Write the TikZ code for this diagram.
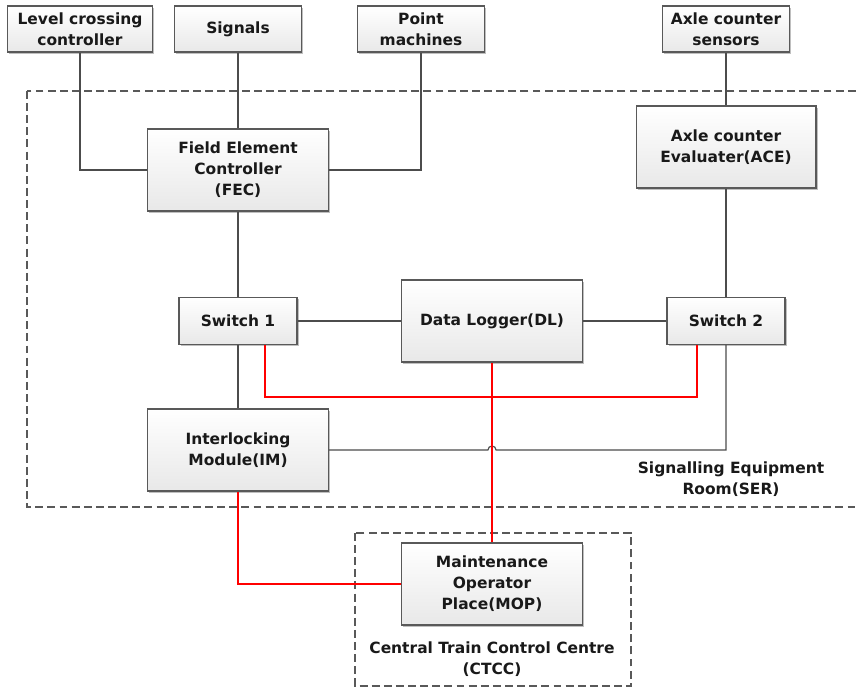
\documentclass[tikz,border=0pt]{standalone}
\usepackage{fontspec}
\setmainfont{DejaVu Sans}
\usepackage{tikz}
\usetikzlibrary{shadows}

\tikzset{
  unit/.style={draw=black!65, line width=0.6pt, top color=white, bottom color=black!9,
    drop shadow={shadow xshift=1.1pt, shadow yshift=-1.1pt, opacity=0.25, fill=black},
    align=center, inner sep=1pt, text=black!90},
  devbox/.style={unit, minimum width=2.54cm, minimum height=0.92cm},
  mainbox/.style={unit, minimum width=3.62cm, minimum height=1.64cm},
  swbox/.style={unit, minimum width=2.36cm, minimum height=0.94cm},
  wire/.style={draw=black!70, line width=0.65pt},
  redwire/.style={draw=red, line width=0.6pt},
  room/.style={draw=black!65, line width=0.6pt, dash pattern=on 4.5pt off 2.4pt},
  roomlabel/.style={align=center, text=black!90}
}

\begin{document}
\begin{tikzpicture}[x=0.02cm, y=-0.02cm, font=\fontsize{8.8}{12}\selectfont\bfseries]
\useasboundingbox (0,0) rectangle (858,689);
\draw[room] (27,91) rectangle (880,507);
\draw[room] (355,533) rectangle (631,686);
\node[devbox, minimum width=2.9cm] (lcc) at (80,29) {Level crossing\\controller};
\node[devbox] (sig) at (238,29) {Signals};
\node[devbox] (pm) at (421,29) {Point\\machines};
\node[devbox] (acs) at (726,29) {Axle counter\\sensors};
\node[mainbox] (fec) at (238,170) {Field Element\\Controller\\(FEC)};
\node[mainbox, minimum width=3.6cm] (ace) at (726,147) {Axle counter\\Evaluater(ACE)};
\node[swbox] (sw1) at (238,321) {Switch 1};
\node[mainbox] (dl) at (492,321) {Data Logger(DL)};
\node[swbox] (sw2) at (726,321) {Switch 2};
\node[mainbox] (im) at (238,450) {Interlocking\\Module(IM)};
\node[mainbox] (mop) at (492,584) {Maintenance\\Operator\\Place(MOP)};
\node[roomlabel] (serlabel) at (731,479) {Signalling Equipment\\Room(SER)};
\node[roomlabel] (ctcclabel) at (492,659) {Central Train Control Centre\\(CTCC)};
\coordinate (hop) at (dl.south |- im.east);
\draw[wire] (lcc) |- (fec);
\draw[wire] (sig) -- (fec);
\draw[wire] (pm) |- (fec);
\draw[wire] (acs) -- (ace);
\draw[wire] (fec) -- (sw1);
\draw[wire] (ace) -- (sw2);
\draw[wire] (sw1) -- (dl);
\draw[wire] (dl) -- (sw2);
\draw[wire] (sw1) -- (im);
\draw[wire] (sw2.south) |- ([xshift=2.3pt]hop) arc[start angle=0, end angle=180, radius=2.3pt] -- (im.east);
\draw[redwire] ([xshift=0.54cm]sw1.south) -- ++(0,-1.04cm) -| ([xshift=-0.58cm]sw2.south);
\draw[redwire] (dl) -- (mop);
\draw[redwire] (im) |- (mop);
\end{tikzpicture}
\end{document}
